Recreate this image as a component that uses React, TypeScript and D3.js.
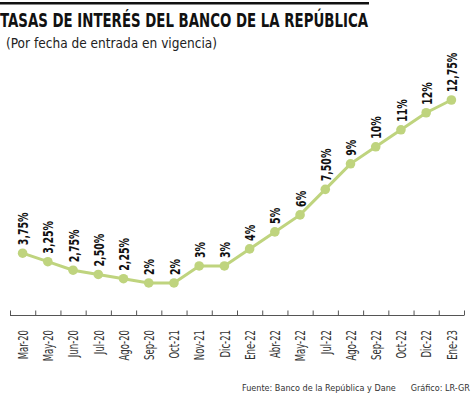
import React from "react";
// @ts-ignore
import * as d3 from "d3";

const WIDTH = 474;
const HEIGHT = 395;

const dates = [
  "Mar-20", "May-20", "Jun-20", "Jul-20", "Ago-20", "Sep-20", "Oct-21", "Nov-21", "Dic-21",
  "Ene-22", "Abr-22", "May-22", "Jul-22", "Ago-22", "Sep-22", "Oct-22", "Dic-22", "Ene-23",
];
const rates = [3.75, 3.25, 2.75, 2.5, 2.25, 2, 2, 3, 3, 4, 5, 6, 7.5, 9, 10, 11, 12, 12.75];
const rateLabels = [
  "3,75%", "3,25%", "2,75%", "2,50%", "2,25%", "2%", "2%", "3%", "3%",
  "4%", "5%", "6%", "7,50%", "9%", "10%", "11%", "12%", "12,75%",
];

// no hay fuente condensada, se comprime a mano
const FONT = "'DejaVu Sans Condensed', 'DejaVu Sans', sans-serif";
const GREEN = "#bfd47e";

const App = () => {
  const x = d3.scaleBand().domain(dates).range([10, 464]);
  const y = d3.scaleLinear().domain([0, 12.75]).range([317, 100]);
  const cx = (d: string) => (x(d) as number) + x.bandwidth() / 2;

  const line = d3
    .line()
    .x((d: any) => cx(d.date))
    .y((d: any) => y(d.rate));

  const points = dates.map((date, i) => ({ date, rate: rates[i], label: rateLabels[i] }));
  const edges = dates.map((d) => x(d) as number).concat([x.range()[1]]);

  return (
    <div style={{ position: "absolute", left: 0, top: 0 }}>
      <svg width={WIDTH} height={HEIGHT} style={{ display: "block", background: "#fff" }}>
        <rect x={0} y={2} width={369} height={2.5} fill="#111" />
        <text x={0} y={27} fontFamily={FONT} fontWeight="bold" fontSize={19} fill="#111"
          textLength={368} lengthAdjust="spacingAndGlyphs">
          TASAS DE INTERÉS DEL BANCO DE LA REPÚBLICA
        </text>
        <text x={6} y={48} fontFamily={FONT} fontSize={14} fill="#222"
          textLength={211} lengthAdjust="spacingAndGlyphs">
          (Por fecha de entrada en vigencia)
        </text>

        {/* eje */}
        <g stroke="#555" strokeWidth={1} fill="none">
          <line x1={x.range()[0]} x2={x.range()[1]} y1={315.5} y2={315.5} />
          {edges.map((e, i) => (
            <line key={i} x1={e + 0.5} x2={e + 0.5} y1={310.5} y2={315.5} />
          ))}
        </g>
        <g fontFamily={FONT} fontSize={13.5} fill="#333" textAnchor="end">
          {dates.map((d) => (
            <text key={d} transform={`translate(${cx(d) + 0.5},330) rotate(-90) scale(0.7,1)`} dy="0.35em">
              {d}
            </text>
          ))}
        </g>

        <path d={line(points as any) as string} fill="none" stroke={GREEN} strokeWidth={3} />
        <g fill={GREEN}>
          {points.map((p) => (
            <circle key={p.date} cx={cx(p.date)} cy={y(p.rate)} r={4.8} />
          ))}
        </g>
        <g fontFamily={FONT} fontWeight="bold" fontSize={14} fill="#111">
          {points.map((p) => (
            <text key={p.date}
              transform={`translate(${cx(p.date) + 0.5},${y(p.rate) - 8}) rotate(-90) scale(0.75,1)`}
              dy="0.36em">
              {p.label}
            </text>
          ))}
        </g>

        <g fontFamily={FONT} fontSize={9} fill="#333">
          <text x={242} y={391}>Fuente: Banco de la República y Dane</text>
          <text x={470} y={391} textAnchor="end">Gráfico: LR-GR</text>
        </g>
      </svg>
    </div>
  );
};

export default App;
